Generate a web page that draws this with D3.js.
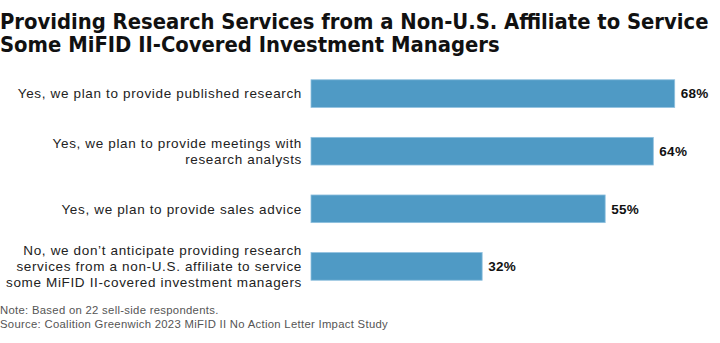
<!DOCTYPE html>
<html>
<head>
<meta charset="utf-8">
<script src="https://cdn.jsdelivr.net/npm/d3@7"></script>
<style>
  body { margin: 0; background: #fff; }
  svg { display: block; }
</style>
</head>
<body>
<svg class="bar-chart"></svg>
<script>
const titleLines = [
  'Providing Research Services from a Non-U.S. Affiliate to Service',
  'Some MiFID II-Covered Investment Managers'
];
const categories = [
  ['Yes, we plan to provide published research'],
  ['Yes, we plan to provide meetings with', 'research analysts'],
  ['Yes, we plan to provide sales advice'],
  ['No, we don\u2019t anticipate providing research', 'services from a non-U.S. affiliate to service', 'some MiFID II-covered investment managers']
];
const values = [68, 64, 55, 32];
const footnotes = [
  'Note: Based on 22 sell-side respondents.',
  'Source: Coalition Greenwich 2023 MiFID II No Action Letter Impact Study'
];

const width = 720, height = 343;
const margin = { top: 74, right: 45, bottom: 57, left: 311 };

const svg = d3.select('.bar-chart')
  .attr('width', width)
  .attr('height', height);

// title
svg.append('g')
  .selectAll('text')
  .data(titleLines)
  .join('text')
  .attr('x', 0)
  .attr('y', (d, i) => 29 + i * 23)
  .attr('font-family', '"DejaVu Sans Condensed", "DejaVu Sans", sans-serif')
  .attr('font-weight', 'bold')
  .attr('font-size', 21.8)
  .attr('fill', '#111')
  .text(d => d);

const x = d3.scaleLinear()
  .domain([0, 68])
  .range([margin.left, 674.7]);

const y = d3.scaleBand()
  .domain(d3.range(values.length))
  .range([margin.top, height - margin.bottom])
  .paddingInner(0.52)
  .paddingOuter(0.1);

const rows = svg.append('g')
  .selectAll('g')
  .data(values)
  .join('g');

rows.append('rect')
  .attr('x', x(0))
  .attr('y', (d, i) => y(i))
  .attr('width', d => x(d) - x(0))
  .attr('height', y.bandwidth())
  .attr('fill', '#4f9ac5')
  .attr('stroke', '#8fc0df')
  .attr('stroke-width', 0.8);

rows.append('text')
  .attr('x', d => x(d) + 6)
  .attr('y', (d, i) => y(i) + y.bandwidth() / 2)
  .attr('dy', '0.35em')
  .attr('font-family', '"Liberation Sans", Arial, sans-serif')
  .attr('font-weight', 'bold')
  .attr('font-size', 13.5)
  .attr('letter-spacing', 0.3)
  .attr('fill', '#111')
  .text(d => d + '%');

const labels = rows.append('text')
  .attr('text-anchor', 'end')
  .attr('font-family', '"Liberation Sans", Arial, sans-serif')
  .attr('font-size', 13.5)
  .attr('letter-spacing', 0.65)
  .attr('fill', '#222');

labels.selectAll('tspan')
  .data((d, i) => categories[i].map((t, j) => ({ t, j, n: categories[i].length, i })))
  .join('tspan')
  .attr('x', 302)
  .attr('y', d => y(d.i) + y.bandwidth() / 2 + (d.j - (d.n - 1) / 2) * 16)
  .attr('dy', '0.35em')
  .text(d => d.t);

// footnotes
svg.append('g')
  .selectAll('text')
  .data(footnotes)
  .join('text')
  .attr('x', 0)
  .attr('y', (d, i) => 314 + i * 13.5)
  .attr('font-family', '"Liberation Sans", Arial, sans-serif')
  .attr('font-size', 11.3)
  .attr('letter-spacing', 0.3)
  .attr('fill', '#555')
  .text(d => d);
</script>
</body>
</html>
